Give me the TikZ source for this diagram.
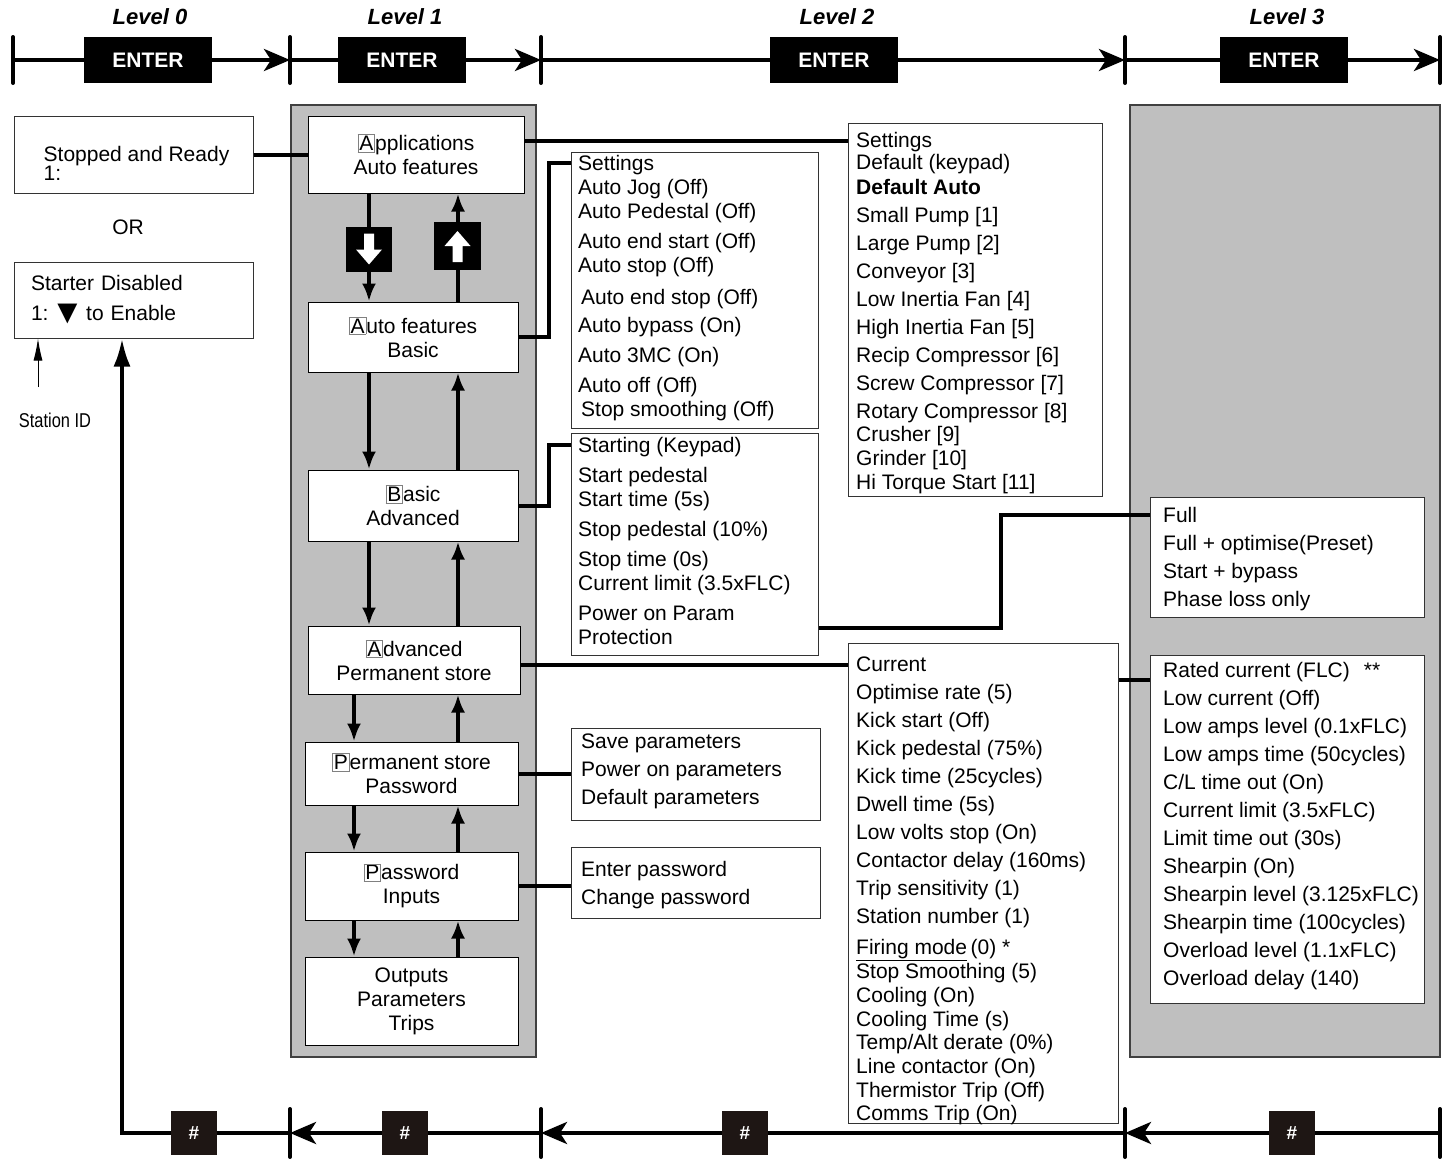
\documentclass[tikz,border=0pt]{standalone}
\usepackage{fontspec}
\setmainfont{Liberation Sans}
\newfontfamily\narrowfont[FakeStretch=0.82]{Liberation Sans}
\usetikzlibrary{arrows.meta}
\definecolor{hashbg}{RGB}{30,22,20}
\newcommand\keyltr[1]{{\setlength\fboxsep{1pt}\setlength\fboxrule{0.8pt}\fcolorbox{black!50}{white}{#1}}}

\begin{document}
\begin{tikzpicture}[x=1pt, y=-1pt,
    every node/.style={font=\fontsize{21}{24}\selectfont},
    bar/.style={line width=4pt},
    tick/.style={line width=4pt, line cap=round},
    nav/.style={bar, -{Stealth[length=26pt, width=22pt, inset=7pt]}},
    flow/.style={line width=4.5pt, -{Latex[length=18pt, width=14pt]}},
    wire/.style={line width=4pt},
    frame/.style={draw=black!80, fill=white, line width=1pt, inner sep=0pt},
    menu/.style={frame, draw=black, align=center},
    panel/.style={draw=black!75, fill=black!25, line width=1.5pt},
    key/.style={fill=black, text=white, inner sep=0pt, minimum width=128pt, minimum height=46pt, font=\fontsize{21}{24}\selectfont\bfseries},
    hash/.style={fill=hashbg, text=white, inner sep=0pt, minimum width=46pt, minimum height=44pt, font=\fontsize{19}{20}\selectfont\bfseries},
    level/.style={font=\fontsize{22}{24}\selectfont\bfseries\itshape},
    txt/.style={anchor=north west, align=left, inner sep=0pt},
    txtb/.style={txt, font=\fontsize{21}{28}\selectfont}]

  \useasboundingbox (0,0) rectangle (1449,1159);

  % level headings and enter bar
  \node[level] (lev0) at (150,17) {Level 0};
  \node[level] (lev1) at (405,17) {Level 1};
  \node[level] (lev2) at (837,17) {Level 2};
  \node[level] (lev3) at (1287,17) {Level 3};
  \node[key] (enter0) at (148,60) {ENTER};
  \node[key] (enter1) at (402,60) {ENTER};
  \node[key] (enter2) at (834,60) {ENTER};
  \node[key] (enter3) at (1284,60) {ENTER};
  \coordinate (t0) at (13,60);
  \coordinate (t1) at (290,60);
  \coordinate (t2) at (541,60);
  \coordinate (t3) at (1125,60);
  \coordinate (t4) at (1440,60);
  \draw[bar] (t0) -- (enter0);
  \draw[nav] (enter0) -- (t1);
  \draw[bar] (t1) -- (enter1);
  \draw[nav] (enter1) -- (t2);
  \draw[bar] (t2) -- (enter2);
  \draw[nav] (enter2) -- (t3);
  \draw[bar] (t3) -- (enter3);
  \draw[nav] (enter3) -- (t4);
  \draw[tick] ([yshift=23pt]t0) -- ([yshift=-23pt]t0);
  \draw[tick] ([yshift=23pt]t1) -- ([yshift=-23pt]t1);
  \draw[tick] ([yshift=23pt]t2) -- ([yshift=-23pt]t2);
  \draw[tick] ([yshift=23pt]t3) -- ([yshift=-23pt]t3);
  \draw[tick] ([yshift=23pt]t4) -- ([yshift=-23pt]t4);

  % panels
  \node[panel, minimum width=245pt, minimum height=952pt] (lvl1) at (413.5,581) {};
  \node[panel, minimum width=310pt, minimum height=952pt] (lvl3) at (1285,581) {};

  % level 0
  \node[frame, align=left, minimum width=239pt, minimum height=77pt] (ready) at (133.5,154.5) {\rule{0pt}{33pt}\hspace{6pt}Stopped and Ready\\[-5pt]\hspace{6pt}1:};
  \node (or) at (128,227) {OR};
  \node[frame, align=left, text width=205pt, minimum width=239pt, minimum height=76pt] (disabled) at (133.5,300) {Starter Disabled\\[6pt]1:\hspace{2pt}\raisebox{-3pt}{\fontsize{34}{24}\selectfont ▼}\hspace{2pt}to Enable};
  \node[font=\narrowfont\fontsize{20}{22}\selectfont] (station) at (55,420) {Station ID};
  \coordinate (sid) at (38,387);
  \draw[line width=1pt, -{Latex[length=22pt, width=9pt]}] (sid) -- (sid |- disabled.south);

  % level 1 menus
  \node[menu, minimum width=216pt, minimum height=77pt] (apps) at (416,154.5) {\keyltr{A}pplications\\Auto features};
  \node[menu, minimum width=210pt, minimum height=70pt] (autof) at (413,337) {\keyltr{A}uto features\\Basic};
  \node[menu, minimum width=210pt, minimum height=71pt] (basic) at (413,505.5) {\keyltr{B}asic\\Advanced};
  \node[menu, minimum width=212pt, minimum height=68pt] (adv) at (414,660) {\keyltr{A}dvanced\\Permanent store};
  \node[menu, minimum width=213pt, minimum height=63pt] (perm) at (411.5,773.5) {\keyltr{P}ermanent store\\Password};
  \node[menu, minimum width=213pt, minimum height=68pt] (pass) at (411.5,886) {\keyltr{P}assword\\Inputs};
  \node[menu, minimum width=213pt, minimum height=88pt] (outp) at (411.5,1001) {Outputs\\Parameters\\Trips};

  \coordinate (dn) at (369,0);
  \coordinate (dnlow) at (354,0);
  \coordinate (up) at (458,0);
  \draw[flow] (apps.south -| dn) -- (autof.north -| dn);
  \draw[flow] (autof.north -| up) -- (apps.south -| up);
  \draw[flow] (autof.south -| dn) -- (basic.north -| dn);
  \draw[flow] (basic.north -| up) -- (autof.south -| up);
  \draw[flow] (basic.south -| dn) -- (adv.north -| dn);
  \draw[flow] (adv.north -| up) -- (basic.south -| up);
  \draw[flow] (adv.south -| dnlow) -- (perm.north -| dnlow);
  \draw[flow] (perm.north -| up) -- (adv.south -| up);
  \draw[flow] (perm.south -| dnlow) -- (pass.north -| dnlow);
  \draw[flow] (pass.north -| up) -- (perm.south -| up);
  \draw[flow] (pass.south -| dnlow) -- (outp.north -| dnlow);
  \draw[flow] (outp.north -| up) -- (pass.south -| up);

  % arrow keys
  \node[fill=black, inner sep=0pt, minimum width=46pt, minimum height=45pt] (dnkey) at (369,249.5) {};
  \node[fill=black, inner sep=0pt, minimum width=47pt, minimum height=48pt] (upkey) at (457.5,246) {};
  \fill[white, shift={(dnkey.center)}] (-5,-16) -- (5,-16) -- (5,0) -- (13,0) -- (0,15) -- (-13,0) -- (-5,0) -- cycle;
  \fill[white, shift={(upkey.center)}] (-5,16) -- (5,16) -- (5,0) -- (13,0) -- (0,-15) -- (-13,0) -- (-5,0) -- cycle;

  % level 2 lists
  \node[frame, anchor=north west, minimum width=247pt, minimum height=276pt] (autolist) at (571,152) {};
  \node[txt] (autotxt) at (578,155) {Settings\\ Auto Jog (Off)\\ Auto Pedestal (Off)\\[6pt] Auto end start (Off)\\ Auto stop (Off)\\[8pt] \hspace{3pt}Auto end stop (Off)\\[4pt] Auto bypass (On)\\[6pt] Auto 3MC (On)\\[6pt] Auto off (Off)\\ \hspace{3pt}Stop smoothing (Off)};
  \node[frame, anchor=north west, minimum width=247pt, minimum height=222pt] (startlist) at (571,433) {};
  \node[txt] (starttxt) at (578,437) {Starting (Keypad)\\[6pt] Start pedestal\\ Start time (5s)\\[6pt] Stop pedestal (10\%)\\[6pt] Stop time (0s)\\ Current limit (3.5xFLC)\\[6pt] Power on Param\\ Protection};
  \node[frame, anchor=north west, minimum width=249pt, minimum height=92pt] (savelist) at (571,728) {};
  \node[txtb] (savetxt) at (581,734) {Save parameters\\ Power on parameters\\ Default parameters};
  \node[frame, anchor=north west, minimum width=249pt, minimum height=71pt] (pwlist) at (571,847) {};
  \node[txtb] (pwtxt) at (581,861) {Enter password\\ Change password};
  \node[frame, anchor=north west, minimum width=254pt, minimum height=373pt] (applist) at (848,123) {};
  \node[txtb] (apptxt) at (856,132) {Settings\\[-6pt] Default (keypad)\\[-3pt] \textbf{Default Auto}\\ Small Pump [1]\\ Large Pump [2]\\ Conveyor [3]\\ Low Inertia Fan [4]\\ High Inertia Fan [5]\\ Recip Compressor [6]\\ Screw Compressor [7]\\ Rotary Compressor [8]\\[-5pt] Crusher [9]\\[-4pt] Grinder [10]\\[-4pt] Hi Torque Start [11]};
  \node[frame, anchor=north west, minimum width=270pt, minimum height=480pt] (curlist) at (848,643) {};
  \node[txtb] (curtxt) at (856,657) {Current\\ Optimise rate (5)\\ Kick start (Off)\\ Kick pedestal (75\%)\\ Kick time (25cycles)\\ Dwell time (5s)\\ Low volts stop (On)\\ Contactor delay (160ms)\\ Trip sensitivity (1)\\ Station number (1)\\[3pt] \underline{Firing mode}\,(0) *\\[-4pt] Stop Smoothing (5)\\[-4pt] Cooling (On)\\[-4pt] Cooling Time (s)\\[-5pt] Temp/Alt derate (0\%)\\[-4pt] Line contactor (On)\\[-4pt] Thermistor Trip (Off)\\[-5pt] Comms Trip (On)};

  % level 3 lists
  \node[frame, anchor=north west, minimum width=274pt, minimum height=120pt] (fulllist) at (1150,497) {};
  \node[txtb] (fulltxt) at (1163,507) {Full\\ Full + optimise(Preset)\\ Start + bypass\\ Phase loss only};
  \node[frame, anchor=north west, minimum width=274pt, minimum height=348pt] (ratedlist) at (1150,655) {};
  \node[txtb] (ratedtxt) at (1163,662) {Rated current (FLC)\hspace{14pt}**\\ Low current (Off)\\ Low amps level (0.1xFLC)\\ Low amps time (50cycles)\\ C/L time out (On)\\ Current limit (3.5xFLC)\\ Limit time out (30s)\\ Shearpin (On)\\ Shearpin level (3.125xFLC)\\ Shearpin time (100cycles)\\ Overload level (1.1xFLC)\\ Overload delay (140)};

  % connectors
  \draw[wire] (ready) -- (apps);
  \draw[wire] ([yshift=14pt]apps.east) -- ([yshift=14pt]apps.east -| applist.west);
  \draw[wire] (autof.east) -- ++(30,0) |- ([yshift=-11pt]autolist.north west);
  \draw[wire] (basic.east) -- ++(30,0) |- ([yshift=-12pt]startlist.north west);
  \draw[wire] ([yshift=-5pt]adv.east) -- ([yshift=-5pt]adv.east -| curlist.west);
  \draw[wire] (perm.east) -- (perm.east -| savelist.west);
  \draw[wire] (pass.east) -- (pass.east -| pwlist.west);
  \draw[wire] ([yshift=28pt]startlist.south east) -- ++(182,0) |- ([yshift=-18pt]fulllist.north west);
  \draw[wire] ([yshift=-37pt]curlist.north east) -- ([yshift=-37pt]curlist.north east -| ratedlist.west);

  % back bar
  \node[hash] (hash0) at (194,1133) {\#};
  \node[hash] (hash1) at (405,1133) {\#};
  \node[hash] (hash2) at (745,1133) {\#};
  \node[hash] (hash3) at (1292,1133) {\#};
  \coordinate (c0) at (122,1133);
  \coordinate (b1) at (290,1133);
  \coordinate (b2) at (541,1133);
  \coordinate (b3) at (1125,1133);
  \coordinate (b4) at (1440,1133);
  \draw[bar] (b4) -- (hash3);
  \draw[nav] (hash3) -- (b3);
  \draw[bar] (b3) -- (hash2);
  \draw[nav] (hash2) -- (b2);
  \draw[bar] (b2) -- (hash1);
  \draw[nav] (hash1) -- (b1);
  \draw[bar, -{Latex[length=28pt, width=17pt]}] (b1) -- (c0) -- (c0 |- disabled.south);
  \draw[tick] ([yshift=24pt]b1) -- ([yshift=-24pt]b1);
  \draw[tick] ([yshift=24pt]b2) -- ([yshift=-24pt]b2);
  \draw[tick] ([yshift=24pt]b3) -- ([yshift=-24pt]b3);
  \draw[tick] ([yshift=24pt]b4) -- ([yshift=-24pt]b4);
  \node[hash] at (hash0) {\#};
\end{tikzpicture}
\end{document}
